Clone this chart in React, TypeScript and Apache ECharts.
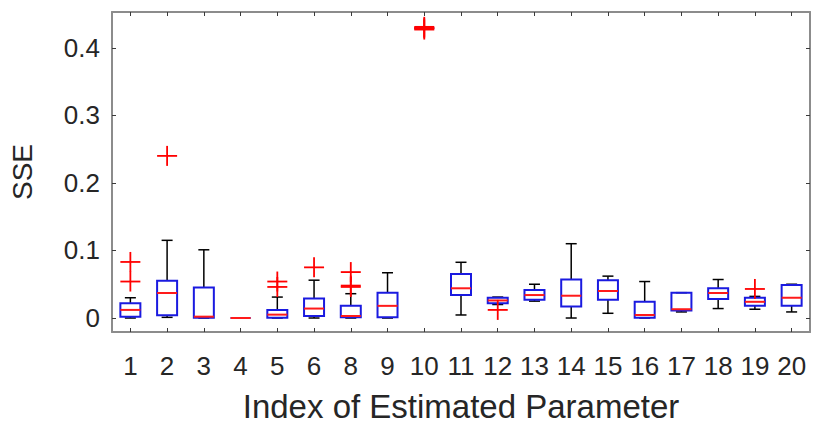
import React, { useEffect, useRef } from "react";
import * as echarts from "echarts";

const categories = ["1", "2", "3", "4", "5", "6", "8", "9", "10", "11", "12", "13", "14", "15", "16", "17", "18", "19", "20"];
const whiskerLow = [0.0, 0.001, 0.0, 0.0, 0.0, 0.0, 0.0, 0.0, 0.429, 0.0045, 0.02, 0.025, 0.0, 0.007, 0.0, 0.009, 0.014, 0.013, 0.009];
const quartile1 = [0.002, 0.004, 0.0005, 0.0, 0.0005, 0.003, 0.001, 0.001, 0.429, 0.034, 0.022, 0.027, 0.017, 0.027, 0.0005, 0.011, 0.028, 0.018, 0.018];
const medians = [0.012, 0.037, 0.002, 0.0, 0.005, 0.014, 0.003, 0.018, 0.429, 0.044, 0.026, 0.034, 0.033, 0.04, 0.0045, 0.013, 0.037, 0.024, 0.03];
const quartile3 = [0.022, 0.055, 0.045, 0.0, 0.012, 0.029, 0.018, 0.0375, 0.429, 0.065, 0.03, 0.0415, 0.057, 0.056, 0.024, 0.0375, 0.044, 0.03, 0.049];
const whiskerHigh = [0.03, 0.115, 0.101, 0.0, 0.031, 0.056, 0.036, 0.067, 0.429, 0.0825, 0.031, 0.05, 0.11, 0.062, 0.054, 0.0375, 0.057, 0.032, 0.05];
const outlierCategories = ["1", "1", "2", "5", "5", "6", "8", "8", "8", "10", "10", "10", "12", "19"];
const outlierValues = [0.083, 0.054, 0.24, 0.054, 0.046, 0.075, 0.068, 0.048, 0.046, 0.427, 0.429, 0.431, 0.012, 0.043];
const yTicks = [0, 0.1, 0.2, 0.3, 0.4];
const yMin = -0.0207;
const yMax = 0.453;

const FONT = "Liberation Sans, Arial, Helvetica, sans-serif";
const TEXT = "#262626";
const FRAME = "#8c8c8c";
const TICK = "#3a3a3a";

export default function App() {
  const ref = useRef<HTMLDivElement>(null);
  useEffect(() => {
    if (!ref.current) return;
    const chart = echarts.init(ref.current, undefined, { renderer: "svg" });
    const boxData = categories.map((_, i) => [i, whiskerLow[i], quartile1[i], medians[i], quartile3[i], whiskerHigh[i]]);
    const outlierData = outlierCategories.map((c, k) => [categories.indexOf(c), outlierValues[k]]);
    const axisLineStyle = { show: true, onZero: false, lineStyle: { color: FRAME, width: 2 } };
    const tickStyle = { show: true, inside: true, length: 4, alignWithLabel: true, lineStyle: { color: TICK, width: 1 } };
    const option: any = {
      animation: false,
      grid: { left: 111, right: 7, top: 12, bottom: 96, containLabel: false },
      xAxis: [
        {
          type: "category",
          data: categories,
          position: "bottom",
          axisLine: axisLineStyle,
          axisTick: tickStyle,
          axisLabel: { color: TEXT, fontSize: 26, fontFamily: FONT, margin: 21, interval: 0 },
          name: "Index of Estimated Parameter",
          nameLocation: "middle",
          nameGap: 58,
          nameTextStyle: { color: TEXT, fontSize: 33, fontFamily: FONT },
          splitLine: { show: false },
        },
        {
          type: "category",
          data: categories,
          position: "top",
          axisLine: axisLineStyle,
          axisTick: tickStyle,
          axisLabel: { show: false },
          splitLine: { show: false },
        },
      ],
      yAxis: [
        {
          type: "value",
          min: yMin,
          max: yMax,
          position: "left",
          axisLine: axisLineStyle,
          axisTick: { show: true, inside: true, length: 4, customValues: yTicks, lineStyle: { color: TICK, width: 1 } },
          axisLabel: {
            color: TEXT,
            fontSize: 26,
            fontFamily: FONT,
            margin: 12,
            customValues: yTicks,
            formatter: (v: number) => (Math.abs(v) < 1e-9 ? "0" : String(Math.round(v * 10) / 10)),
          },
          splitLine: { show: false },
          name: "SSE",
          nameLocation: "middle",
          nameGap: 76,
          nameTextStyle: { color: TEXT, fontSize: 28, fontFamily: FONT },
        },
        {
          type: "value",
          min: yMin,
          max: yMax,
          position: "right",
          axisLine: axisLineStyle,
          axisTick: { show: true, inside: true, length: 4, customValues: yTicks, lineStyle: { color: TICK, width: 1 } },
          axisLabel: { show: false },
          splitLine: { show: false },
        },
      ],
      series: [
        {
          type: "custom",
          xAxisIndex: 0,
          yAxisIndex: 0,
          encode: { x: 0, y: [1, 2, 3, 4, 5] },
          data: boxData,
          z: 2,
          renderItem: (_params: any, api: any) => {
            const i = api.value(0);
            const lo = api.coord([i, api.value(1)]);
            const q1 = api.coord([i, api.value(2)]);
            const md = api.coord([i, api.value(3)]);
            const q3 = api.coord([i, api.value(4)]);
            const hi = api.coord([i, api.value(5)]);
            const x = lo[0];
            const bw = 20;
            const cw = 11;
            const wStyle = { stroke: "#000000", lineWidth: 1.5 };
            return {
              type: "group",
              children: [
                { type: "line", shape: { x1: x, y1: q3[1], x2: x, y2: hi[1] }, style: wStyle },
                { type: "line", shape: { x1: x, y1: q1[1], x2: x, y2: lo[1] }, style: wStyle },
                { type: "line", shape: { x1: x - cw / 2, y1: hi[1], x2: x + cw / 2, y2: hi[1] }, style: wStyle },
                { type: "line", shape: { x1: x - cw / 2, y1: lo[1], x2: x + cw / 2, y2: lo[1] }, style: wStyle },
                {
                  type: "rect",
                  shape: { x: x - bw / 2, y: q3[1], width: bw, height: q1[1] - q3[1] },
                  style: { fill: "none", stroke: "#1a1ae0", lineWidth: 2 },
                },
                {
                  type: "line",
                  shape: { x1: x - bw / 2, y1: md[1], x2: x + bw / 2, y2: md[1] },
                  style: { stroke: "#ff1a1a", lineWidth: 2 },
                },
              ],
            };
          },
        },
        {
          type: "custom",
          xAxisIndex: 0,
          yAxisIndex: 0,
          encode: { x: 0, y: 1 },
          data: outlierData,
          z: 3,
          renderItem: (_params: any, api: any) => {
            const p = api.coord([api.value(0), api.value(1)]);
            const h = 10;
            const st = { stroke: "#ff0000", lineWidth: 1.8 };
            return {
              type: "group",
              children: [
                { type: "line", shape: { x1: p[0] - h, y1: p[1], x2: p[0] + h, y2: p[1] }, style: st },
                { type: "line", shape: { x1: p[0], y1: p[1] - h, x2: p[0], y2: p[1] + h }, style: st },
              ],
            };
          },
        },
      ],
    };
    chart.setOption(option);
    return () => chart.dispose();
  }, []);
  return <div ref={ref} style={{ position: "fixed", left: 0, top: 0, width: 817, height: 428, background: "#ffffff" }} />;
}
